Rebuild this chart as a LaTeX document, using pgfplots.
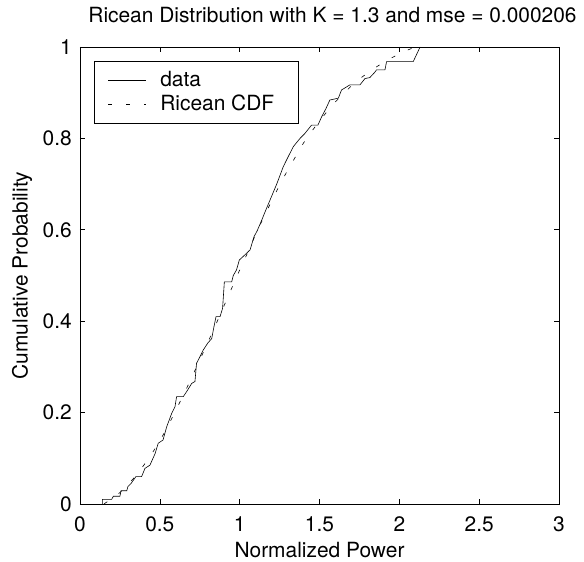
\documentclass[border=0pt]{standalone}
\usepackage{fontspec}
\setmainfont{TeX Gyre Heros}
\usepackage{pgfplots}
\pgfplotsset{compat=1.18}
\begin{document}
\begin{tikzpicture}
\fontsize{21}{25}\selectfont
\begin{axis}[name=ax, scale only axis, width=479bp, height=457bp,
  xmin=0, xmax=3, ymin=0, ymax=1,
  xtick={0,0.5,1,1.5,2,2.5,3}, xticklabels={0,0.5,1,1.5,2,2.5,3},
  ytick={0,0.2,0.4,0.6,0.8,1}, yticklabels={0,0.2,0.4,0.6,0.8,1},
  tick align=inside, major tick length=5bp,
  tick style={line width=0.6pt, black},
  axis line style={line width=0.8pt},
  ticklabel style={font=\fontsize{21}{25}\selectfont},
  xticklabel style={yshift=-5.5bp},
  yticklabel style={xshift=-1bp},
  title={Ricean Distribution with K = 1.3 and mse = 0.000206},
  title style={at={(axis description cs:0.5,1)}, anchor=base, yshift=19bp, xshift=13bp, font=\fontsize{21}{25}\selectfont},
  xlabel={Normalized Power},
  xlabel style={at={(axis description cs:0.5,0)}, anchor=base, yshift=-53bp, font=\fontsize{21}{25}\selectfont},
  ylabel={Cumulative Probability},
  ylabel style={at={(axis description cs:-0.121,0.5)}, anchor=center, font=\fontsize{21}{25}\selectfont},
  legend style={at={(axis description cs:0.029,0.969)}, anchor=north west, draw=black, line width=0.8pt, fill=white,
    font=\fontsize{21}{25}\selectfont, inner xsep=0bp, inner ysep=7bp, row sep=0bp,
    nodes={inner xsep=0bp, inner ysep=0bp, text height=18bp, text depth=6bp},
    cells={anchor=west}},
  legend image code/.code={\path[draw=none] (-14bp,0) -- (52bp,0); \draw[#1, line width=0.6pt] (0bp,0bp) -- (38bp,0bp);},
  legend cell align=left,
]
\addplot[black, line width=0.6pt] coordinates {
(0.14,0.0) (0.14,0.01) (0.198,0.01) (0.209,0.017) (0.25,0.017) (0.257,0.029) (0.293,0.029)
(0.30,0.038) (0.32,0.045) (0.35,0.06) (0.386,0.06) (0.407,0.078) (0.438,0.085)
(0.47,0.11) (0.49,0.133) (0.52,0.14) (0.543,0.169) (0.574,0.198) (0.595,0.213)
(0.605,0.235) (0.647,0.235) (0.668,0.246) (0.70,0.264) (0.72,0.268) (0.73,0.308)
(0.751,0.322) (0.772,0.337) (0.80,0.352) (0.825,0.362) (0.839,0.388) (0.852,0.41)
(0.877,0.41) (0.893,0.428) (0.904,0.486) (0.95,0.486) (0.96,0.50) (0.98,0.512)
(0.998,0.534) (1.02,0.541) (1.065,0.556) (1.09,0.585) (1.11,0.598) (1.138,0.621)
(1.16,0.64) (1.19,0.665) (1.232,0.70) (1.273,0.738) (1.294,0.753) (1.336,0.782)
(1.378,0.80) (1.409,0.811) (1.45,0.829) (1.49,0.829) (1.513,0.847) (1.54,0.865)
(1.565,0.884) (1.618,0.888) (1.638,0.906) (1.69,0.917) (1.753,0.917) (1.785,0.931)
(1.815,0.933) (1.847,0.945) (1.857,0.95) (1.91,0.95) (1.92,0.968) (2.087,0.968)
(2.13,1.0)
};
\addlegendentry{\makebox[138bp][l]{data}}
\addplot[black, line width=0.6pt, dash pattern=on 4bp off 14bp] coordinates {
(0.15,0.0) (0.2,0.012) (0.25,0.025) (0.3,0.042) (0.35,0.062) (0.4,0.085)
(0.45,0.11) (0.5,0.138) (0.55,0.17) (0.6,0.205) (0.65,0.24) (0.7,0.277)
(0.75,0.315) (0.8,0.353) (0.85,0.392) (0.9,0.432) (0.95,0.472) (1.0,0.512)
(1.05,0.55) (1.1,0.59) (1.15,0.627) (1.2,0.663) (1.25,0.698) (1.3,0.73)
(1.35,0.76) (1.4,0.79) (1.45,0.815) (1.5,0.838) (1.55,0.86) (1.6,0.88)
(1.65,0.898) (1.7,0.915) (1.75,0.93) (1.8,0.943) (1.85,0.955) (1.9,0.966)
(1.95,0.976) (2.0,0.985) (2.05,0.993) (2.1,1.0)
};
\addlegendentry{\makebox[138bp][l]{Ricean CDF}}
\end{axis}
\pgfresetboundingbox
\path ([shift={(-80bp,-58bp)}]ax.south west) rectangle ([shift={(25bp,47bp)}]ax.north east);
\end{tikzpicture}
\end{document}
